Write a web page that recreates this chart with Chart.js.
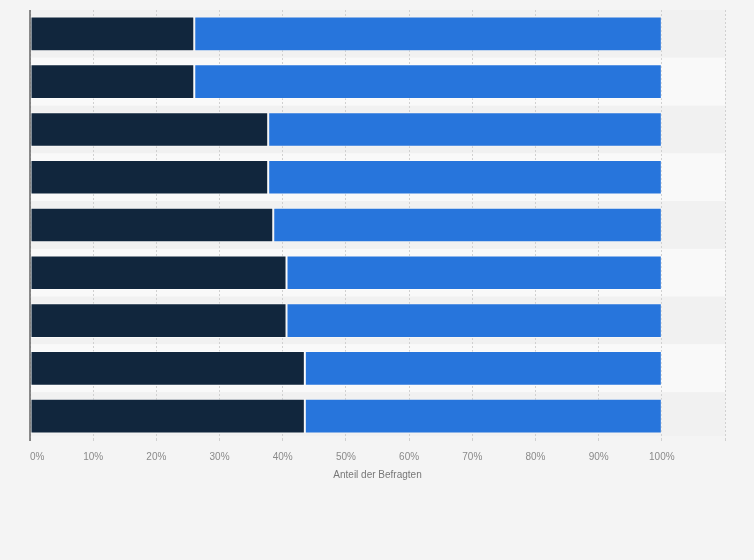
<!DOCTYPE html>
<html>
<head>
<meta charset="utf-8">
<script src="https://cdn.jsdelivr.net/npm/chart.js@4/dist/chart.umd.min.js"></script>
<style>
html,body{margin:0;padding:0;background:#f4f4f4;}
#wrap{width:754px;height:560px;position:relative;}
</style>
</head>
<body>
<div id="wrap"><canvas id="c" width="754" height="560"></canvas></div>
<script>
const categories = ['1','2','3','4','5','6','7','8','9'];
const seriesA = [26.0, 26.0, 37.7, 37.7, 38.5, 40.6, 40.6, 43.5, 43.5];
const seriesB = [74.0, 74.0, 62.3, 62.3, 61.5, 59.4, 59.4, 56.5, 56.5];
const tickLabels = ['0%','10%','20%','30%','40%','50%','60%','70%','80%','90%','100%'];

const bandPlugin = {
  id: 'bands',
  beforeDraw(chart) {
    const {ctx, chartArea, scales} = chart;
    const y = scales.y;
    ctx.save();
    categories.forEach((c, i) => {
      const top = i === 0 ? chartArea.top : (y.getPixelForValue(i - 1) + y.getPixelForValue(i)) / 2;
      const bot = i === categories.length - 1 ? chartArea.bottom - 4 : (y.getPixelForValue(i) + y.getPixelForValue(i + 1)) / 2;
      ctx.fillStyle = i % 2 === 0 ? '#f1f1f1' : '#f9f9f9';
      ctx.fillRect(chartArea.left, top, chartArea.right - chartArea.left, bot - top);
    });
    ctx.restore();
  },
  afterDraw(chart) {
    const {ctx, chartArea} = chart;
    ctx.save();
    ctx.strokeStyle = '#666';
    ctx.lineWidth = 1.5;
    ctx.beginPath();
    ctx.moveTo(chartArea.left, chartArea.top);
    ctx.lineTo(chartArea.left, chartArea.bottom + 1);
    ctx.stroke();
    ctx.restore();
  }
};

new Chart(document.getElementById('c'), {
  type: 'bar',
  data: {
    labels: categories,
    datasets: [
      { data: seriesA, backgroundColor: '#11263d', borderColor: 'rgba(255,255,255,0.55)', borderWidth: 1, borderSkipped: false, categoryPercentage: 1, barPercentage: 0.725 },
      { data: seriesB, backgroundColor: '#2775dc', borderColor: 'rgba(255,255,255,0.35)', borderWidth: 1, borderSkipped: false, categoryPercentage: 1, barPercentage: 0.725 }
    ]
  },
  options: {
    indexAxis: 'y',
    responsive: false,
    animation: false,
    layout: { padding: { left: 30, right: 29, top: 10, bottom: 77 } },
    plugins: { legend: { display: false }, tooltip: { enabled: false } },
    scales: {
      x: {
        stacked: true,
        min: 0, max: 110,
        ticks: {
          stepSize: 10,
          color: '#8a8a8a',
          font: { family: 'Liberation Sans', size: 10, lineHeight: 1.0 },
          padding: 11,
          align: 'inner',
          maxRotation: 0,
          callback: (v) => tickLabels[Math.round(v / 10)] || ''
        },
        grid: { color: '#d0d0d0', lineWidth: 1, tickLength: 1, drawOnChartArea: true },
        border: { display: false, dash: [2, 2] },
        title: { display: true, text: 'Anteil der Befragten', color: '#777', font: { family: 'Liberation Sans', size: 10, lineHeight: 1.0 }, padding: { top: -3, bottom: 3 } }
      },
      y: {
        stacked: true,
        display: false
      }
    }
  },
  plugins: [bandPlugin]
});
</script>
</body>
</html>
